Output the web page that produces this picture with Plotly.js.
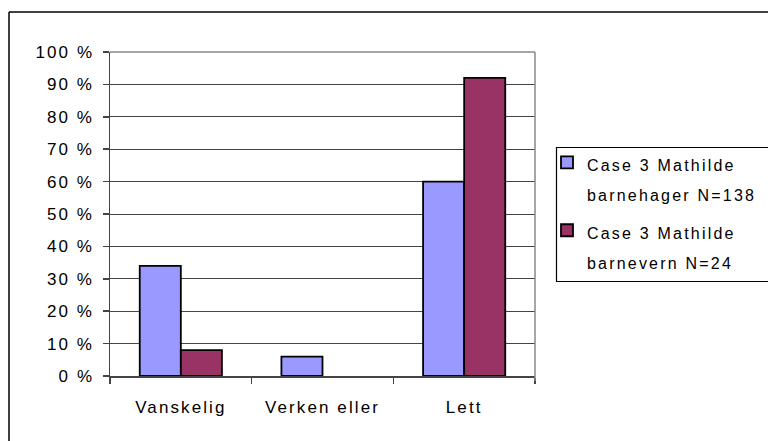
<!DOCTYPE html>
<html>
<head>
<meta charset="utf-8">
<script src="https://cdn.plot.ly/plotly-3.0.1.min.js"></script>
<style>
  body { margin: 0; padding: 0; background: #fff; }
  #chart { width: 768px; height: 441px; }
  #chart .xtick text, #chart .ytick text { letter-spacing: 2.1px; }
  #chart .legendtext { letter-spacing: 2.2px; }
  #chart .legend .scrollbox, #chart .legend g { clip-path: none !important; }
</style>
</head>
<body>
<div id="chart"></div>
<script>
// Data
const categories = ["Vanskelig", "Verken eller", "Lett"];
const seriesNames = [
  ["Case 3 Mathilde", "barnehager N=138"],
  ["Case 3 Mathilde", "barnevern N=24"]
];
const barnehagerValues = [34, 6, 60];
const barnevernValues = [8, 0, 92];
const yTickValues = [0, 10, 20, 30, 40, 50, 60, 70, 80, 90, 100];
const yTickLabels = ["0 %", "10 %", "20 %", "30 %", "40 %", "50 %", "60 %", "70 %", "80 %", "90 %", "100 %"];

const FONT = "Liberation Sans, Arial, sans-serif";
const legendName = lines => lines.map(s => '<span style="font-size:16px">' + s + '</span>').join("<br>");
const outlineWidths = vals => vals.map(v => (v === 0 ? 0 : 1.8));

const traces = [
  {
    type: "bar",
    name: legendName(seriesNames[0]),
    x: categories,
    y: barnehagerValues,
    marker: { color: "#9999FF", line: { color: "#000000", width: outlineWidths(barnehagerValues) } },
    hoverinfo: "skip",
    legendgroup: "a"
  },
  {
    type: "bar",
    name: legendName(seriesNames[1]),
    x: categories,
    y: barnevernValues,
    marker: { color: "#993366", line: { color: "#000000", width: outlineWidths(barnevernValues) } },
    hoverinfo: "skip",
    legendgroup: "b"
  }
];

// plot area in pixels: x 110..535, y 52..376
const L = 110, R = 535, T = 52, B = 376;
const px = v => (v - L) / (R - L);
const py = v => (B - v) / (B - T);

const layout = {
  width: 768,
  height: 441,
  margin: { l: L, r: 768 - R, t: T, b: 441 - B, pad: 0 },
  paper_bgcolor: "#ffffff",
  plot_bgcolor: "#ffffff",
  font: { family: FONT, size: 17, color: "#000000" },
  barmode: "group",
  bargap: 0.42,
  bargroupgap: 0,
  showlegend: true,
  legend: {
    x: px(547), y: py(141), xanchor: "left", yanchor: "top",
    bgcolor: "rgba(0,0,0,0)", borderwidth: 0,
    font: { family: FONT, size: 23, color: "#000000" },
    valign: "top",
    tracegroupgap: 5
  },
  xaxis: {
    type: "category",
    tickson: "boundaries",
    ticks: "outside",
    ticklen: 6,
    tickwidth: 1.5,
    tickcolor: "#444444",
    showline: true,
    linecolor: "#444444",
    linewidth: 1.5,
    showgrid: false,
    ticklabelstandoff: 15,
    tickfont: { family: FONT, size: 17, color: "#000000" },
    fixedrange: true
  },
  yaxis: {
    range: [0, 100],
    tickmode: "array",
    tickvals: yTickValues,
    ticktext: yTickLabels,
    ticks: "outside",
    ticklen: 6,
    tickwidth: 1.5,
    tickcolor: "#444444",
    showline: true,
    linecolor: "#444444",
    linewidth: 1.5,
    showgrid: true,
    gridcolor: "#444444",
    gridwidth: 1,
    zeroline: false,
    ticklabelstandoff: 5,
    tickfont: { family: FONT, size: 17, color: "#000000" },
    fixedrange: true
  },
  shapes: [
    // plot area top & right border (gray)
    { type: "line", xref: "paper", yref: "paper", x0: 0, x1: 1, y0: 1, y1: 1, line: { color: "#888888", width: 1.5 }, layer: "above" },
    { type: "line", xref: "paper", yref: "paper", x0: 1, x1: 1, y0: py(381), y1: 1, line: { color: "#888888", width: 1.5 }, layer: "above" },
    // outer chart border (top & left visible)
    { type: "line", xref: "paper", yref: "paper", x0: px(9), x1: px(800), y0: py(12), y1: py(12), line: { color: "#000000", width: 1.5 } },
    { type: "line", xref: "paper", yref: "paper", x0: px(9), x1: px(9), y0: py(12), y1: py(480), line: { color: "#000000", width: 1.5 } },
    // legend box
    { type: "rect", xref: "paper", yref: "paper", x0: px(556.5), x1: px(800), y0: py(281.5), y1: py(147.5), line: { color: "#000000", width: 1.2 }, fillcolor: "rgba(0,0,0,0)" }
  ]
};

Plotly.newPlot("chart", traces, layout, { displayModeBar: false, staticPlot: true });
</script>
</body>
</html>
